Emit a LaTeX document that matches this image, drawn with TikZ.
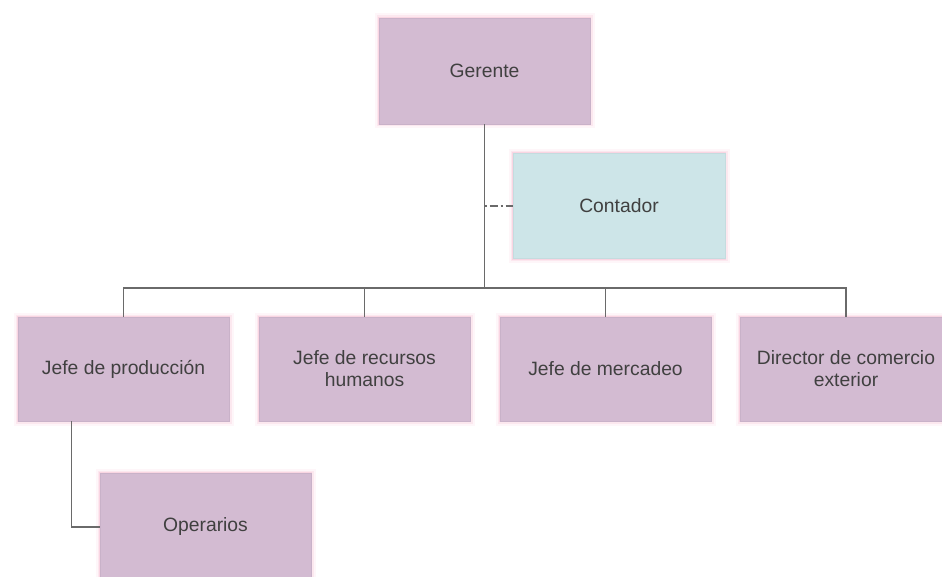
\documentclass[tikz,border=0pt]{standalone}
\usepackage{fontspec}
\setmainfont{Liberation Sans}
\definecolor{boxfill}{HTML}{D3BBD2}
\definecolor{boxedge}{HTML}{C9B2C9}
\definecolor{contfill}{HTML}{CDE5E8}
\definecolor{contedge}{HTML}{C4DCDF}
\definecolor{glowc}{HTML}{F2A8C4}
\definecolor{txt}{HTML}{404040}
\definecolor{conn}{HTML}{6A6A6A}
\tikzset{
  orgbox/.style={rectangle, draw=boxedge, fill=boxfill, line width=0.8pt,
    minimum width=211pt, minimum height=104pt, align=center, text=txt,
    font=\fontsize{19.3}{22}\selectfont,
    preaction={draw=glowc, line width=9pt, opacity=0.10},
    preaction={draw=glowc, line width=5pt, opacity=0.18},
    preaction={draw=glowc, line width=2.5pt, opacity=0.30}},
  contbox/.style={orgbox, draw=contedge, fill=contfill},
  link/.style={draw=conn, line width=1.4pt},
  dlink/.style={link, dash pattern=on 2pt off 3pt on 8pt off 3pt}
}
\begin{document}
\begin{tikzpicture}[x=1pt,y=-1pt]
\useasboundingbox (0,0) rectangle (942,577);
\node[orgbox, minimum height=106pt] (ger) at (484.5,71) {Gerente};
\node[contbox, minimum width=212pt, minimum height=105pt] (cont) at (619,206) {Contador};
\node[orgbox] (jp) at (123.5,369) {Jefe de producción};
\node[orgbox] (jrh) at (364.5,369) {Jefe de recursos\\humanos};
\node[orgbox] (jm) at (605.5,369) {Jefe de mercadeo};
\node[orgbox] (dce) at (846,369) {Director de comercio\\exterior};
\node[orgbox, minimum height=108pt] (op) at (205.5,527) {Operarios};
\coordinate (bus) at (484.5,288);
\draw[link] (ger.south) -- (bus);
\draw[link] (jp.north) |- (bus) -| (dce.north);
\draw[link] (jrh.north) -- (jrh.north |- bus);
\draw[link] (jm.north) -- (jm.north |- bus);
\draw[dlink] (cont.west -| ger.south) -- (cont.west);
\draw[link] ([xshift=-52pt]jp.south) |- (op.west);
\end{tikzpicture}
\end{document}
